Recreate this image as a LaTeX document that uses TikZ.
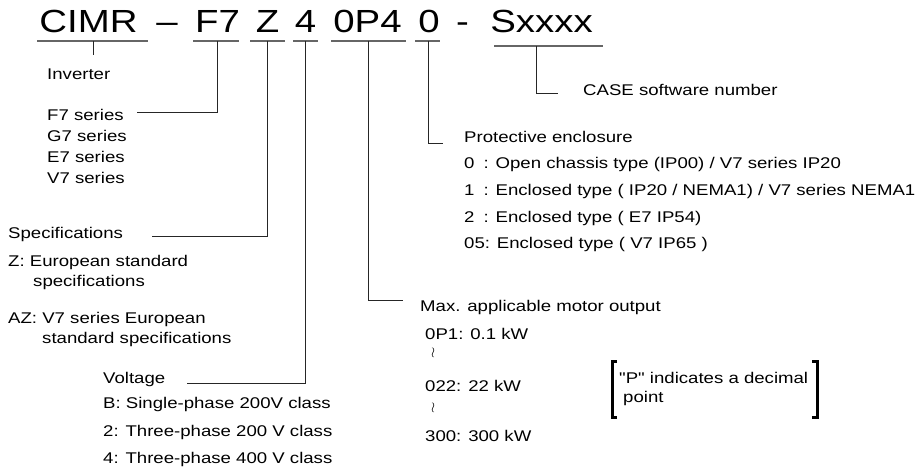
\documentclass[tikz,border=0pt]{standalone}
\usepackage{fontspec}
\setmainfont{Liberation Sans}[FakeStretch=1.2]
\newfontfamily\plainsans{Liberation Sans}[FakeStretch=1.2]

\tikzset{
    title/.style={anchor=base, inner sep=0pt, font=\fontsize{32}{36}\selectfont},
    lbl/.style={anchor=base west, inner sep=0pt, font=\fontsize{15.5}{19}\selectfont},
    uline/.style={draw=black!60, line width=1.1pt},
    link/.style={draw=black!85, line width=0.8pt},
    bracket/.style={draw=black, line width=3pt},
    approx/.style={inner sep=0pt, text height=5pt, text depth=1pt, font=\fontsize{15}{17}\selectfont},
}

\begin{document}
\begin{tikzpicture}[x=1pt, y=-1pt]
    \useasboundingbox (0,0) rectangle (918,469);

    % Model code
    \node[title] (cimr) at (88.5,32.5) {CIMR};
    \node[title] (dasha) at (167,32.5) {--};
    \node[title] (f7) at (217.5,32.5) {F7};
    \node[title] (z) at (267.5,32.5) {Z};
    \node[title] (volt) at (305.5,32.5) {4};
    \node[title] (cap) at (367.5,32.5) {0P4};
    \node[title] (encl) at (429,32.5) {0};
    \node[title] (dashb) at (462.5,32.5) {-};
    \node[title] (soft) at (541.5,32.5) {Sxxxx};

    % Underlines
    \foreach \a/\b in {37/148, 193/239, 250/285, 293/318, 331/406, 415/440}
        \draw[uline] (\a,41) -- (\b,41);
    \draw[uline] (494,46) -- (603,46);

    % Inverter
    \node[lbl] (inv) at (47,79) {Inverter};
    \coordinate (invtop) at (93,41);
    \coordinate (invend) at (93,55);
    \draw[link] (invtop) -- (invend);

    % Series
    \node[lbl] (serf) at (47,120) {F7 series};
    \node[lbl] (serg) at (47,141) {G7 series};
    \node[lbl] (sere) at (47,162) {E7 series};
    \node[lbl] (serv) at (47,183) {V7 series};
    \coordinate (f7top) at (217,41);
    \coordinate (f7end) at (137,112);
    \draw[link] (f7top) |- (f7end);

    % Specifications
    \node[lbl] (spec) at (8,238) {Specifications};
    \node[lbl] (specz) at (8,266) {Z: European standard};
    \node[lbl] (speczb) at (33,286) {specifications};
    \node[lbl] (specaz) at (8,323) {AZ: V7 series European};
    \node[lbl] (specazb) at (42,343) {standard specifications};
    \coordinate (ztop) at (267,41);
    \coordinate (zend) at (152,236);
    \draw[link] (ztop) |- (zend);

    % Voltage
    \node[lbl] (vol) at (103,383) {Voltage};
    \node[lbl] (volb) at (103,408) {B: Single-phase 200V class};
    \node[lbl] (vol2) at (103,436) {2: Three-phase 200 V class};
    \node[lbl] (vol4) at (103,463) {4: Three-phase 400 V class};
    \coordinate (voltop) at (305,41);
    \coordinate (volend) at (187,383);
    \draw[link] (voltop) |- (volend);

    % Motor output
    \node[lbl] (mot) at (420,311) {Max. applicable motor output};
    \node[lbl] (mota) at (425,339) {0P1: 0.1 kW};
    \node[approx] (wra) at (433,354) {$\wr$};
    \node[lbl] (motb) at (425,391) {022: 22 kW};
    \node[approx] (wrb) at (433,409) {$\wr$};
    \node[lbl] (motc) at (425,441) {300: 300 kW};
    \coordinate (captop) at (368,41);
    \coordinate (capend) at (403,300);
    \draw[link] (captop) |- (capend);

    % Decimal point note
    \node[lbl, font=\plainsans\fontsize{15.5}{19}\selectfont] (pnotea) at (619,383) {"P" indicates a decimal};
    \node[lbl] (pnoteb) at (623,402) {point};
    \draw[bracket] (617,361) -- (612,361) -- (612,417) -- (617,417);
    \draw[bracket] (812,361) -- (817,361) -- (817,417) -- (812,417);

    % Protective enclosure
    \node[lbl] (prot) at (464,142) {Protective enclosure};
    \node[lbl] (prota) at (464,168) {0\hspace{9pt}: Open chassis type (IP00) / V7 series IP20};
    \node[lbl] (protb) at (464,195) {1\hspace{9pt}: Enclosed type ( IP20 / NEMA1) / V7 series NEMA1};
    \node[lbl] (protc) at (464,222) {2\hspace{9pt}: Enclosed type ( E7 IP54)};
    \node[lbl] (protd) at (464,248) {05: Enclosed type ( V7 IP65 )};
    \coordinate (encltop) at (428,41);
    \coordinate (enclend) at (443,143);
    \draw[link] (encltop) |- (enclend);

    % Software number
    \node[lbl] (case) at (583,95) {CASE software number};
    \coordinate (softtop) at (536,46);
    \coordinate (softend) at (558,93);
    \draw[link] (softtop) |- (softend);
\end{tikzpicture}
\end{document}
